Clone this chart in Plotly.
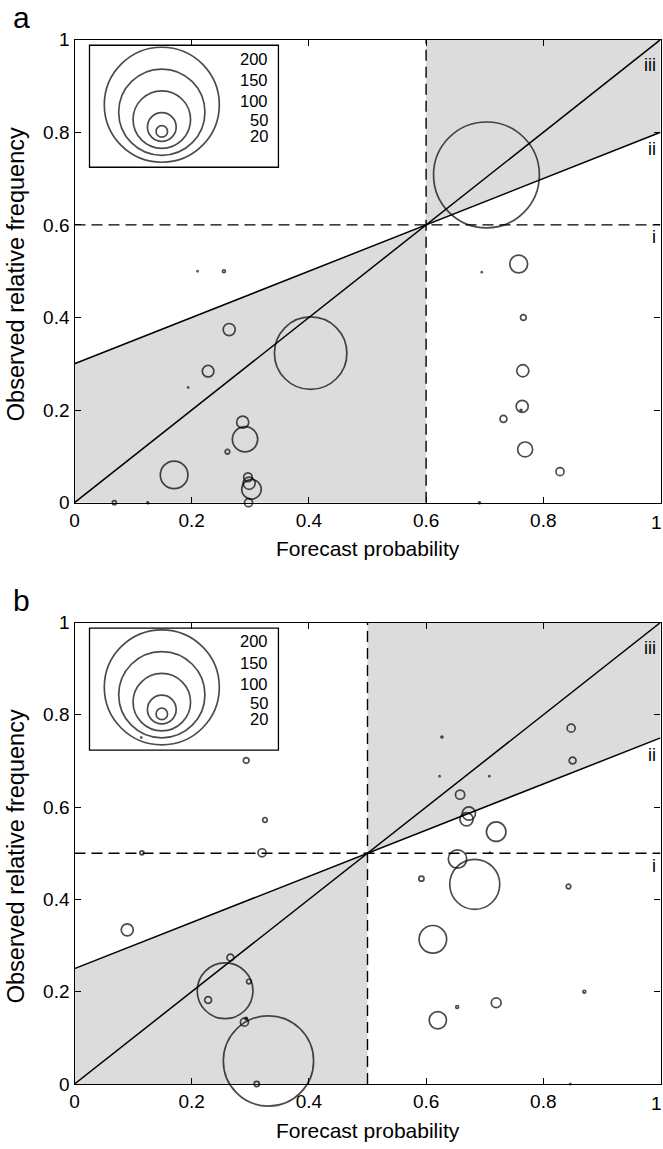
import plotly.graph_objects as go

# ---------------- data ----------------
tick_vals = [0, 0.2, 0.4, 0.6, 0.8, 1]
tick_text = ["0", "0.2", "0.4", "0.6", "0.8", "1"]

# panel a
a_threshold = 0.6
a_x = [0.21, 0.255, 0.264, 0.228, 0.194, 0.403, 0.287, 0.291, 0.261, 0.170,
       0.296, 0.298, 0.302, 0.297, 0.068, 0.125,
       0.703, 0.695, 0.758, 0.766, 0.765, 0.764, 0.762, 0.732, 0.769, 0.8285, 0.691]
a_y = [0.50, 0.50, 0.374, 0.284, 0.249, 0.323, 0.174, 0.137, 0.110, 0.060,
       0.055, 0.042, 0.029, 0.0, 0.0, 0.0,
       0.708, 0.498, 0.5155, 0.40, 0.285, 0.208, 0.200, 0.181, 0.115, 0.067, 0.0]
a_n = [2, 5, 21, 20, 2, 126, 21, 44, 8, 48,
       15, 21, 34, 14, 7, 3,
       184, 2, 31, 10, 21, 21, 3, 12, 26, 14, 3]

# panel b
b_threshold = 0.5
b_x = [0.114, 0.293, 0.325, 0.115, 0.320, 0.090, 0.266, 0.257, 0.2975, 0.228,
       0.290, 0.293, 0.331, 0.311,
       0.627, 0.623, 0.708, 0.8475, 0.850, 0.658, 0.673, 0.669, 0.7196, 0.709,
       0.6536, 0.592, 0.683, 0.843, 0.6115, 0.653, 0.620, 0.7196, 0.870, 0.846]
b_y = [0.751, 0.701, 0.572, 0.501, 0.501, 0.334, 0.274, 0.202, 0.222, 0.182,
       0.134, 0.142, 0.050, 0.0,
       0.752, 0.667, 0.667, 0.771, 0.701, 0.627, 0.586, 0.5735, 0.5467, 0.501,
       0.4875, 0.445, 0.4327, 0.428, 0.3135, 0.1668, 0.138, 0.176, 0.200, 0.0]
b_n = [2, 10, 8, 7, 14, 21, 12, 97, 8, 12,
       14, 4, 157, 9,
       3, 2, 2, 14, 12, 16, 23, 23, 34, 2,
       32, 9, 87, 8, 48, 5, 30, 17, 5, 2]

legend_n = [200, 150, 100, 50, 20]
legend_text = ["200", "150", "100", "50", "20"]
region_labels = ["i", "ii", "iii"]

# ---------------- style / layout constants ----------------
W, H = 663, 1149
FONT = "Liberation Sans, Arial, Helvetica, sans-serif"
GRAY = "#dcdcdc"
PX_PER_N = 0.575          # marker diameter (px) per forecast count
X_DOM = [74.5 / W, 660.5 / W]
PANELS = [
    dict(name="a", thr=a_threshold, xs=a_x, ys=a_y, ns=a_n, top=39.7, bottom=502.7),
    dict(name="b", thr=b_threshold, xs=b_x, ys=b_y, ns=b_n, top=622.5, bottom=1084.0),
]
CIRCLE = dict(symbol="circle", color="rgba(0,0,0,0)", sizemode="diameter",
              sizeref=1 / PX_PER_N, sizemin=0, line=dict(color="black", width=1.7))

fig = go.Figure()
annotations = []
shapes = []
layout_axes = {}

for i, p in enumerate(PANELS):
    sfx = "" if i == 0 else str(i + 1)
    xa, ya = "x" + sfx, "y" + sfx
    t = p["thr"]
    ph = p["bottom"] - p["top"]

    def mid(x):
        return (x + t) / 2.0

    # shaded regions
    fig.add_trace(go.Scatter(x=[0, 0, t, t], y=[0, mid(0), t, 0], fill="toself",
                             fillcolor=GRAY, line=dict(width=0), mode="lines",
                             xaxis=xa, yaxis=ya, hoverinfo="skip", showlegend=False))
    fig.add_trace(go.Scatter(x=[t, 1, 1, t], y=[t, mid(1), 1, 1], fill="toself",
                             fillcolor=GRAY, line=dict(width=0), mode="lines",
                             xaxis=xa, yaxis=ya, hoverinfo="skip", showlegend=False))
    # threshold dashed lines
    fig.add_trace(go.Scatter(x=[0, 1], y=[t, t], mode="lines",
                             line=dict(color="black", width=1.4, dash="11px,6px"),
                             xaxis=xa, yaxis=ya, hoverinfo="skip", showlegend=False))
    fig.add_trace(go.Scatter(x=[t, t], y=[0, 1], mode="lines",
                             line=dict(color="black", width=1.4, dash="11px,6px"),
                             xaxis=xa, yaxis=ya, hoverinfo="skip", showlegend=False))
    # diagonal (iii) and skill line (ii)
    fig.add_trace(go.Scatter(x=[0, 1], y=[0, 1], mode="lines",
                             line=dict(color="black", width=1.5),
                             xaxis=xa, yaxis=ya, hoverinfo="skip", showlegend=False))
    fig.add_trace(go.Scatter(x=[0, 1], y=[mid(0), mid(1)], mode="lines",
                             line=dict(color="black", width=1.5),
                             xaxis=xa, yaxis=ya, hoverinfo="skip", showlegend=False))
    # data circles
    fig.add_trace(go.Scatter(x=p["xs"], y=p["ys"], mode="markers",
                             marker=dict(CIRCLE, size=p["ns"]),
                             cliponaxis=False, xaxis=xa, yaxis=ya, showlegend=False))

    # legend inset (box + reference circles + labels)
    box_top = 0.988
    box_bottom = box_top - 122.0 / ph
    shapes.append(dict(type="rect", xref=xa, yref=ya, x0=0.0256, x1=0.348,
                       y0=box_bottom, y1=box_top, line=dict(color="black", width=1.3),
                       fillcolor="white", layer="below"))
    leg_y = [0.7955 + 0.00032 * n for n in legend_n]
    fig.add_trace(go.Scatter(x=[0.149] * len(legend_n), y=leg_y, mode="markers",
                             marker=dict(CIRCLE, size=legend_n),
                             cliponaxis=False, xaxis=xa, yaxis=ya, showlegend=False,
                             hoverinfo="skip"))
    label_offsets_px = [13.4, 34.6, 56.0, 75.0, 90.6]
    for txt, off in zip(legend_text, label_offsets_px):
        yy = box_top - off / ph
        annotations.append(dict(x=0.333, y=yy, xref=xa, yref=ya, text=txt,
                                showarrow=False, xanchor="right", yanchor="middle",
                                font=dict(family=FONT, size=16.5, color="black")))

    # region labels i, ii, iii
    reg_y = [t - 0.027, mid(1) - 0.037, 1 - 0.055]
    for txt, yy in zip(region_labels, reg_y):
        annotations.append(dict(x=1, y=yy, xref=xa, yref=ya, text=txt,
                                showarrow=False, xanchor="right", yanchor="middle",
                                xshift=-3,
                                font=dict(family=FONT, size=18, color="black")))

    # last x tick label, kept inside the page edge
    annotations.append(dict(x=1, y=0, xref=xa, yref=ya, text=tick_text[-1],
                            showarrow=False, xanchor="right", yanchor="top",
                            xshift=2.5, yshift=-8, borderpad=0,
                            font=dict(family=FONT, size=19, color="black")))

    # panel letter
    annotations.append(dict(x=11 / W, y=1 - (p["top"] - 22) / H, xref="paper",
                            yref="paper", text=p["name"], showarrow=False,
                            xanchor="left", yanchor="middle",
                            font=dict(family=FONT, size=30, color="black")))
    # axis titles
    annotations.append(dict(x=(74.5 + 660.5) / 2 / W, y=1 - (p["bottom"] + 46) / H,
                            xref="paper", yref="paper", text="Forecast probability",
                            showarrow=False, xanchor="center", yanchor="middle",
                            font=dict(family=FONT, size=21, color="black")))
    annotations.append(dict(x=16 / W, y=1 - ((p["top"] + p["bottom"]) / 2 + 3) / H,
                            xref="paper", yref="paper",
                            text="Observed relative frequency", textangle=-90,
                            showarrow=False, xanchor="center", yanchor="middle",
                            font=dict(family=FONT, size=23.5, color="black")))

    ydom = [1 - p["bottom"] / H, 1 - p["top"] / H]
    axis_common = dict(range=[0, 1], tickvals=tick_vals,
                       ticks="inside", ticklen=6, tickwidth=1.3, tickcolor="black",
                       showline=True, linecolor="black", linewidth=1.4,
                       mirror="ticks", showgrid=False, zeroline=False,
                       tickfont=dict(family=FONT, size=19, color="black"),
                       automargin=False, fixedrange=True)
    layout_axes["xaxis" + sfx] = dict(axis_common, domain=X_DOM, anchor=ya,
                                      ticktext=tick_text[:-1] + [""])
    layout_axes["yaxis" + sfx] = dict(axis_common, domain=ydom, anchor=xa,
                                      ticktext=tick_text)

fig.update_layout(
    width=W, height=H,
    margin=dict(l=0, r=0, t=0, b=0),
    paper_bgcolor="white", plot_bgcolor="white",
    showlegend=False,
    annotations=annotations, shapes=shapes,
    **layout_axes,
)

fig.write_html(
    "out.html",
    config={"displayModeBar": False},
    post_script=("document.body.style.margin='0';document.body.style.padding='0';"
                 "document.documentElement.style.overflow='hidden';"
                 "document.body.style.overflow='hidden';"),
)
